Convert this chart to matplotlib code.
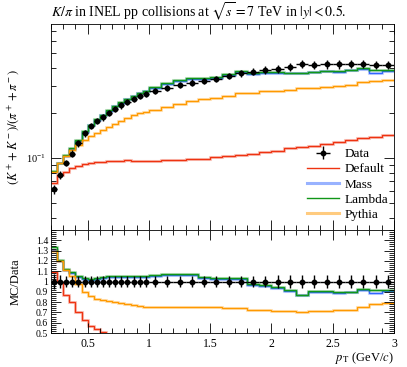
import numpy as np
import matplotlib
matplotlib.use("Agg")
import matplotlib.pyplot as plt
from matplotlib.lines import Line2D
from matplotlib.ticker import MultipleLocator, FixedLocator, NullFormatter, FuncFormatter, LogLocator

plt.rcParams['font.family'] = ['Liberation Serif', 'DejaVu Serif']
plt.rcParams['mathtext.fontset'] = 'stix'
plt.rcParams['font.size'] = 8.5

# binning (GeV/c)
edges = np.concatenate([np.arange(0.2, 1.0, 0.05), np.arange(1.0, 3.0001, 0.1)])

# data : K/pi ratio
data = [0.062, 0.077, 0.093, 0.107, 0.125, 0.146, 0.163, 0.176, 0.187, 0.199, 0.212, 0.224,
        0.237, 0.248, 0.259, 0.267, 0.280, 0.293, 0.307, 0.318, 0.327, 0.336, 0.352, 0.367,
        0.376, 0.386, 0.394, 0.402, 0.421, 0.415, 0.421, 0.421, 0.425, 0.425, 0.416, 0.416]
data_relerr = [0.07, 0.06, 0.05, 0.05, 0.05, 0.05, 0.05, 0.05, 0.05, 0.05, 0.05, 0.05,
               0.05, 0.05, 0.05, 0.05, 0.05, 0.05, 0.05, 0.05, 0.05, 0.05, 0.05, 0.05,
               0.055, 0.055, 0.06, 0.06, 0.06, 0.06, 0.065, 0.065, 0.065, 0.065, 0.065, 0.065]

# MC predictions
default = [0.0678, 0.077, 0.081, 0.0853, 0.0884, 0.091, 0.093, 0.0945, 0.0945, 0.095, 0.096, 0.096,
           0.097, 0.096, 0.096, 0.096, 0.096, 0.097, 0.097, 0.098, 0.098, 0.101, 0.103, 0.105,
           0.107, 0.109, 0.112, 0.116, 0.118, 0.120, 0.124, 0.128, 0.132, 0.135, 0.139, 0.142]
mass = [0.0812, 0.0924, 0.1032, 0.1156, 0.1300, 0.1489, 0.1646, 0.1795, 0.1926, 0.2070, 0.2205, 0.2330,
        0.2465, 0.2592, 0.2694, 0.2777, 0.2940, 0.3106, 0.3254, 0.3371, 0.3368, 0.3427, 0.3590, 0.3743,
        0.3647, 0.3706, 0.3704, 0.3658, 0.3663, 0.3714, 0.3768, 0.3726, 0.3825, 0.3889, 0.3702, 0.3786]
lam = [0.0825, 0.0932, 0.1042, 0.1166, 0.1313, 0.1504, 0.1663, 0.1813, 0.1945, 0.2090, 0.2226, 0.2352,
       0.2489, 0.2604, 0.2720, 0.2804, 0.2968, 0.3150, 0.3300, 0.3419, 0.3401, 0.3461, 0.3626, 0.3780,
       0.3685, 0.3744, 0.3723, 0.3698, 0.3663, 0.3756, 0.3810, 0.3789, 0.3825, 0.3953, 0.3827, 0.3827]
pythia = [0.0806, 0.0924, 0.1032, 0.1124, 0.1225, 0.1314, 0.1402, 0.1461, 0.1533, 0.1612, 0.1696, 0.1770,
          0.1849, 0.1922, 0.1981, 0.2016, 0.2100, 0.2198, 0.2303, 0.2385, 0.2469, 0.2520, 0.2605, 0.2716,
          0.2707, 0.2779, 0.2797, 0.2854, 0.2947, 0.2947, 0.2989, 0.3031, 0.3081, 0.3188, 0.3245, 0.3307]

labels = ["Default", "Mass", "Lambda", "Pythia"]
colors = ["#EE3311", "#3366FF", "#109618", "#FF9900"]
mcs = [default, mass, lam, pythia]

data = np.array(data)
centers = 0.5 * (edges[1:] + edges[:-1])
halfw = 0.5 * (edges[1:] - edges[:-1])
yerr = data * np.array(data_relerr)

fig = plt.figure(figsize=(4.07, 3.67), dpi=100)
ax = fig.add_axes([0.125, 0.373, 0.843, 0.562])
axr = fig.add_axes([0.125, 0.0926, 0.843, 0.2807], sharex=ax)

for vals, c, lab in zip(mcs, colors, labels):
    vals = np.array(vals)
    ax.stairs(vals, edges, baseline=None, color=c, lw=2.2, alpha=0.25)
    ax.stairs(vals, edges, baseline=None, color=c, lw=1.0, label=lab)
    axr.stairs(vals / data, edges, baseline=None, color=c, lw=2.2, alpha=0.25)
    axr.stairs(vals / data, edges, baseline=None, color=c, lw=1.0)

eb = ax.errorbar(centers, data, yerr=yerr, xerr=halfw, fmt='o', color='black', ms=3.2,
                 elinewidth=1.0, capsize=0, zorder=5, label="Data")
axr.errorbar(centers, np.ones_like(data), yerr=data_relerr, xerr=halfw, fmt='o', color='black',
             ms=3.2, elinewidth=1.0, capsize=0, zorder=5)

# legend
leg_handles = [eb,
               Line2D([], [], color=colors[0], lw=1.0),
               Line2D([], [], color=colors[1], lw=2.2, alpha=0.5),
               Line2D([], [], color=colors[2], lw=1.0),
               Line2D([], [], color=colors[3], lw=2.2, alpha=0.5)]
ax.legend(leg_handles, ["Data"] + labels, loc='lower left', bbox_to_anchor=(0.72, 0.0),
          frameon=False, fontsize=9.5, handlelength=2.4, labelspacing=0.22, handletextpad=0.45,
          borderpad=0.2)

ax.set_yscale('log')
ax.set_ylim(0.0331, 0.782)
ax.set_xlim(0.2, 3.0)
ax.yaxis.set_major_locator(FixedLocator([0.1]))
ax.yaxis.set_minor_locator(LogLocator(base=10, subs=np.arange(2, 10)))
ax.yaxis.set_minor_formatter(NullFormatter())
ax.tick_params(labelbottom=False, labelsize=7.5)

axr.set_ylim(0.5, 1.5)
axr.yaxis.set_major_locator(FixedLocator(np.arange(0.5, 1.41, 0.1)))
axr.yaxis.set_minor_locator(MultipleLocator(0.02))
axr.yaxis.set_major_formatter(FuncFormatter(lambda v, p: "%g" % round(v, 2)))
axr.xaxis.set_major_locator(MultipleLocator(0.5))
axr.xaxis.set_minor_locator(MultipleLocator(0.1))
axr.xaxis.set_major_formatter(FuncFormatter(lambda v, p: "%g" % v))
axr.tick_params(axis='y', labelsize=7, pad=2)
axr.tick_params(axis='x', labelsize=8.5)

for a in (ax, axr):
    a.tick_params(which='both', direction='in', top=True, right=True)
    a.tick_params(which='major', length=7, width=0.6)
    a.tick_params(which='minor', length=3.5, width=0.6)
    for s in a.spines.values():
        s.set_linewidth(0.6)

ax.set_title(r"$K/\pi$ in INEL pp collisions at $\sqrt{s} = 7$ TeV in $|y| < 0.5$.",
             loc='left', fontsize=10, pad=5)
ax.set_ylabel(r"$(K^+ + K^-)/(\pi^+ + \pi^-)$", fontsize=9)
axr.set_ylabel("MC/Data", fontsize=9)
ax.yaxis.set_label_coords(-0.085, 0.5)
axr.yaxis.set_label_coords(-0.085, 0.5)
axr.set_xlabel(r"$p_\mathrm{T}$ (GeV/$c$)", loc='right', fontsize=9, labelpad=0)

fig.savefig("out.png", dpi=100)
